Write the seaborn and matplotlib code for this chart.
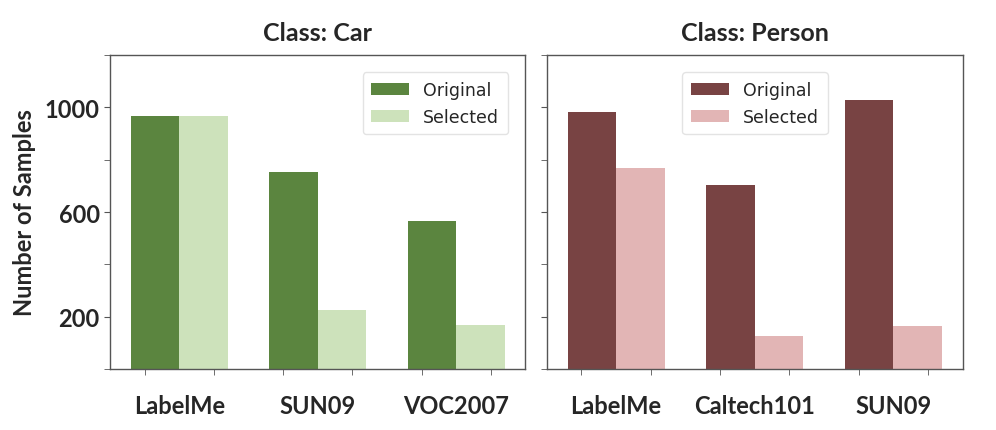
import numpy as np
import pandas as pd
import matplotlib
matplotlib.use("Agg")
import matplotlib.pyplot as plt
import seaborn as sns

# ----------------------------------------------------------
# Data
# ----------------------------------------------------------
car_datasets = ["LabelMe", "SUN09", "VOC2007"]
car_original = [966, 752, 566]
car_selected = [966, 227, 170]

person_datasets = ["LabelMe", "Caltech101", "SUN09"]
person_original = [981, 703, 1027]
person_selected = [768, 128, 166]

splits = ["Original", "Selected"]
car_colors = ["#5b853f", "#cde2bb"]
person_colors = ["#784343", "#e2b5b5"]


def to_long(datasets, original, selected):
    return pd.DataFrame({
        "Dataset": datasets * 2,
        "Split": ["Original"] * len(datasets) + ["Selected"] * len(datasets),
        "Samples": list(original) + list(selected),
    })


df_car = to_long(car_datasets, car_original, car_selected)
df_person = to_long(person_datasets, person_original, person_selected)

sns.set_style("white")

fig = plt.figure(figsize=(9.96, 4.31), dpi=100)
ax1 = fig.add_axes([0.1105, 0.1415, 0.4170, 0.7285])
ax2 = fig.add_axes([0.5490, 0.1415, 0.4177, 0.7285])

panels = [
    (ax1, df_car, car_datasets, car_colors, "Class: Car", "upper right"),
    (ax2, df_person, person_datasets, person_colors, "Class: Person", "upper center"),
]

for ax, data, order, colors, title, loc in panels:
    sns.barplot(
        data=data, x="Dataset", y="Samples", hue="Split",
        order=order, hue_order=splits, palette=colors,
        width=0.7, saturation=1, errorbar=None, linewidth=0, ax=ax,
    )
    ax.set_ylim(0, 1200)
    ax.set_xlim(-0.5, len(order) - 0.5)
    ax.set_title(title, fontsize=18, fontweight="bold", family="Lato", pad=11)
    ax.set_xlabel("")

    # ticks
    ax.set_yticks([200, 600, 1000])
    ax.set_yticks([0, 400, 800, 1200], minor=True)
    ax.set_xticks(np.arange(len(order)))
    ax.set_xticks(np.concatenate([np.arange(len(order)) - 0.25,
                                  np.arange(len(order)) + 0.25]), minor=True)
    ax.tick_params(axis="x", which="major", length=0, pad=18)
    ax.tick_params(axis="x", which="minor", length=4, color="#555555", bottom=True)
    ax.tick_params(axis="y", which="both", length=4, color="#555555", left=True)
    for lab in ax.get_xticklabels() + ax.get_yticklabels():
        lab.set_fontfamily("Lato")
        lab.set_fontweight("bold")
        lab.set_fontsize(17)

    for sp in ax.spines.values():
        sp.set_color("#555555")
        sp.set_linewidth(1.0)

    leg = ax.legend(loc=loc, fontsize=12.5, frameon=True, borderpad=0.5,
                    borderaxespad=1.0, handlelength=2.2, handletextpad=0.8)
    leg.get_frame().set_edgecolor("#dddddd")

ax1.set_ylabel("Number of Samples", fontsize=17, fontweight="bold",
               family="Lato", labelpad=6)
ax2.set_ylabel("")
ax2.set_yticklabels([])

plt.savefig("out.png", dpi=100)
